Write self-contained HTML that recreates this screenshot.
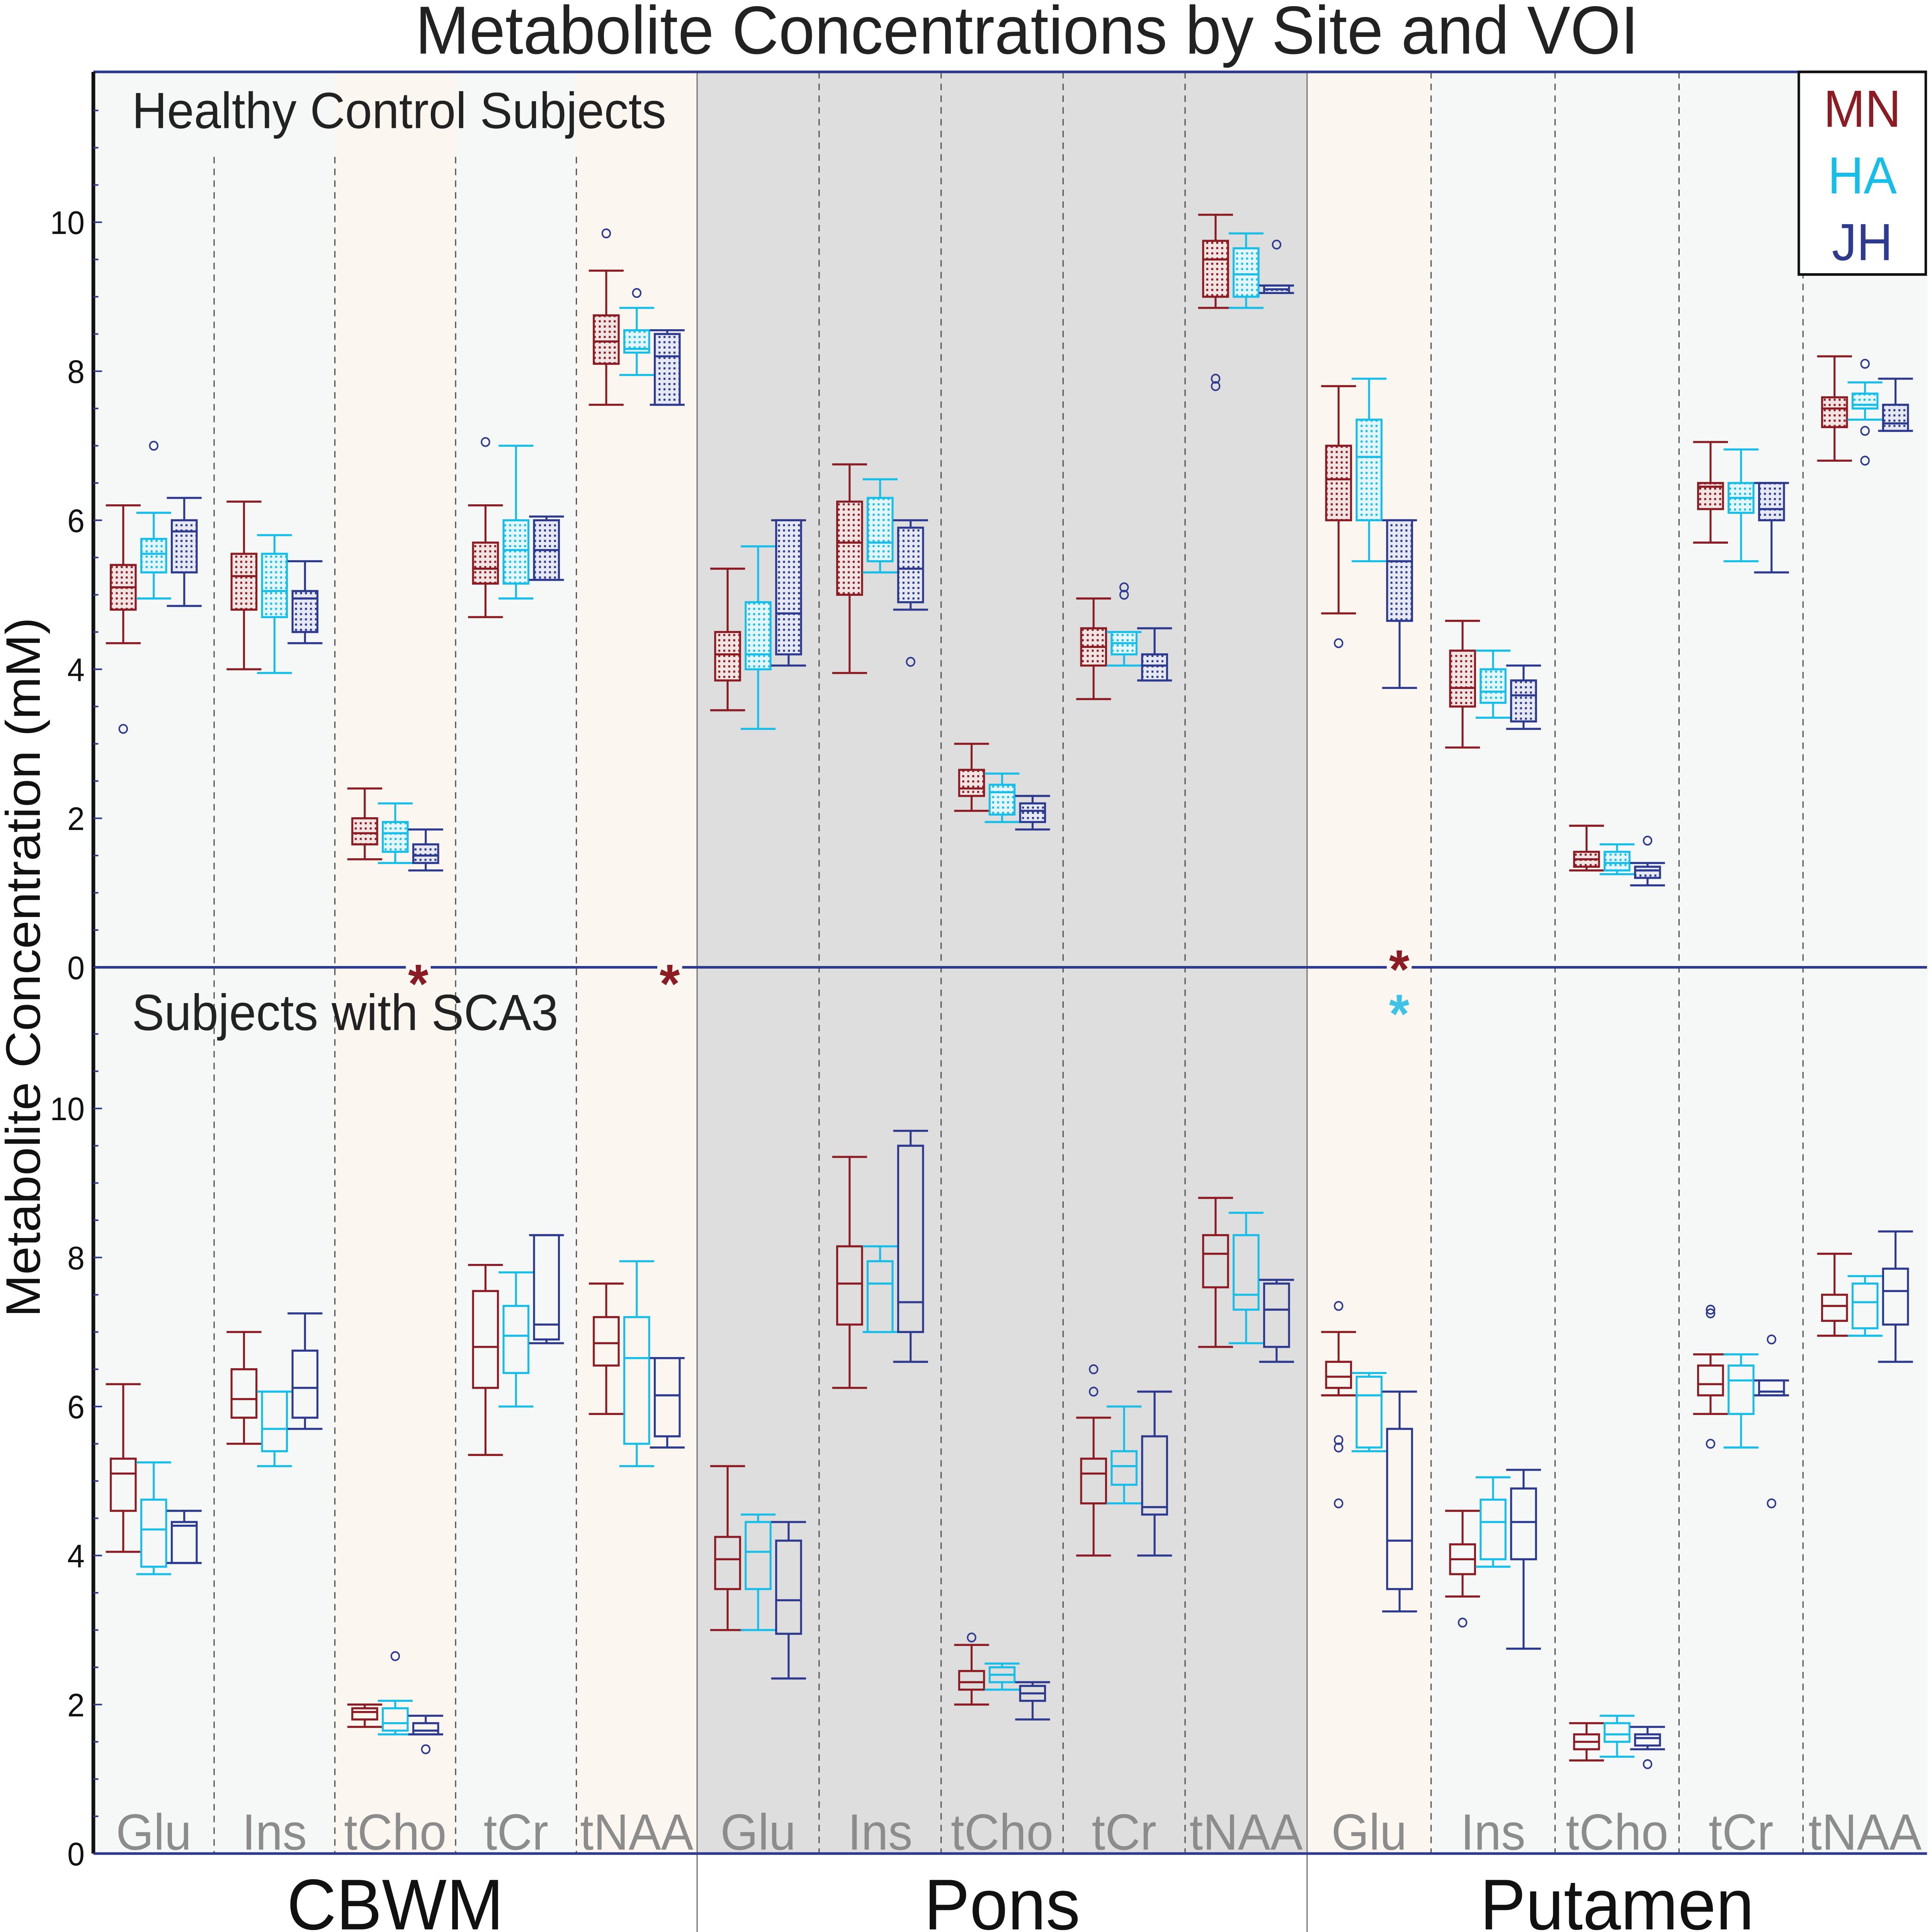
<!DOCTYPE html>
<html><head><meta charset="utf-8"><style>html,body{margin:0;padding:0;background:#fff;width:100vw;height:100vh;overflow:hidden}svg{display:block;width:100vw;height:100vh}</style></head>
<body>
<svg id="chart" viewBox="0 0 1552 1478" preserveAspectRatio="none" xmlns="http://www.w3.org/2000/svg" font-family="Liberation Sans, DejaVu Sans, sans-serif">
<defs>
<pattern id="dotMN" width="4" height="4" patternUnits="userSpaceOnUse"><rect width="4" height="4" fill="#f3e4e4"/><rect x="1" y="1" width="1.6" height="1.6" fill="#8b1c24"/></pattern>
<pattern id="dotHA" width="4" height="4" patternUnits="userSpaceOnUse"><rect width="4" height="4" fill="#e3f6fb"/><rect x="1" y="1" width="1.6" height="1.6" fill="#18bde8"/></pattern>
<pattern id="dotJH" width="4" height="4" patternUnits="userSpaceOnUse"><rect width="4" height="4" fill="#e6e8f3"/><rect x="1" y="1" width="1.6" height="1.6" fill="#2d3a8e"/></pattern>
</defs>
<g id="bg"></g>
<g id="marks"></g>
<g id="fg"></g>
</svg>
<script>
const sites = ["CBWM","Pons","Putamen"];
const metabolites = ["Glu","Ins","tCho","tCr","tNAA"];
const groups = ["MN","HA","JH"];
// each: [whiskerLow, q1, median, q3, whiskerHigh, [outliers]] ordered site -> metabolite -> group
const healthy = [
 [4.35,4.8,5.1,5.4,6.2,[3.2]],[4.95,5.3,5.55,5.75,6.1,[7.0]],[4.85,5.3,5.85,6.0,6.3,[]],
 [4.0,4.8,5.25,5.55,6.25,[]],[3.95,4.7,5.05,5.55,5.8,[]],[4.35,4.5,4.95,5.05,5.45,[]],
 [1.45,1.65,1.8,2.0,2.4,[]],[1.4,1.55,1.8,1.95,2.2,[]],[1.3,1.4,1.5,1.65,1.85,[]],
 [4.7,5.15,5.35,5.7,6.2,[7.05]],[4.95,5.15,5.6,6.0,7.0,[]],[5.2,5.2,5.6,6.0,6.05,[]],
 [7.55,8.1,8.4,8.75,9.35,[9.85]],[7.95,8.25,8.3,8.55,8.85,[9.05]],[7.55,7.55,8.2,8.5,8.55,[]],
 [3.45,3.85,4.2,4.5,5.35,[]],[3.2,4.0,4.2,4.9,5.65,[]],[4.05,4.2,4.75,6.0,6.0,[]],
 [3.95,5.0,5.7,6.25,6.75,[]],[5.3,5.45,5.7,6.3,6.55,[]],[4.8,4.9,5.35,5.9,6.0,[4.1]],
 [2.1,2.3,2.4,2.65,3.0,[]],[1.95,2.05,2.35,2.45,2.6,[]],[1.85,1.95,2.1,2.2,2.3,[]],
 [3.6,4.05,4.3,4.55,4.95,[]],[4.05,4.2,4.35,4.5,4.5,[5.0,5.1]],[3.85,3.85,4.05,4.2,4.55,[]],
 [8.85,9.0,9.5,9.75,10.1,[7.8,7.9]],[8.85,9.0,9.3,9.65,9.85,[]],[9.05,9.05,9.1,9.15,9.15,[9.7]],
 [4.75,6.0,6.55,7.0,7.8,[4.35]],[5.45,6.0,6.85,7.35,7.9,[]],[3.75,4.65,5.45,6.0,6.0,[]],
 [2.95,3.5,3.75,4.25,4.65,[]],[3.35,3.55,3.7,4.0,4.25,[]],[3.2,3.3,3.65,3.85,4.05,[]],
 [1.3,1.35,1.45,1.55,1.9,[]],[1.25,1.3,1.4,1.55,1.65,[]],[1.1,1.2,1.3,1.35,1.4,[1.7]],
 [5.7,6.15,6.45,6.5,7.05,[]],[5.45,6.1,6.3,6.5,6.95,[]],[5.3,6.0,6.15,6.5,6.5,[]],
 [6.8,7.25,7.5,7.65,8.2,[]],[7.35,7.5,7.55,7.7,7.85,[8.1,7.2,6.8]],[7.2,7.2,7.3,7.55,7.9,[]]
];
const sca3 = [
 [4.05,4.6,5.1,5.3,6.3,[]],[3.75,3.85,4.35,4.75,5.25,[]],[3.9,3.9,4.4,4.45,4.6,[]],
 [5.5,5.85,6.1,6.5,7.0,[]],[5.2,5.4,5.7,6.2,6.2,[]],[5.7,5.85,6.25,6.75,7.25,[]],
 [1.7,1.8,1.9,1.95,2.0,[]],[1.6,1.65,1.75,1.95,2.05,[2.65]],[1.6,1.6,1.65,1.75,1.85,[1.4]],
 [5.35,6.25,6.8,7.55,7.9,[]],[6.0,6.45,6.95,7.35,7.8,[]],[6.85,6.9,7.1,8.3,8.3,[]],
 [5.9,6.55,6.85,7.2,7.65,[]],[5.2,5.5,6.65,7.2,7.95,[]],[5.45,5.6,6.15,6.65,6.65,[]],
 [3.0,3.55,3.95,4.25,5.2,[]],[3.0,3.55,4.05,4.45,4.55,[]],[2.35,2.95,3.4,4.2,4.45,[]],
 [6.25,7.1,7.65,8.15,9.35,[]],[7.0,7.0,7.65,7.95,8.15,[]],[6.6,7.0,7.4,9.5,9.7,[]],
 [2.0,2.2,2.3,2.45,2.8,[2.9]],[2.2,2.3,2.4,2.5,2.55,[]],[1.8,2.05,2.15,2.25,2.3,[]],
 [4.0,4.7,5.1,5.3,5.85,[6.2,6.5]],[4.7,4.95,5.2,5.4,6.0,[]],[4.0,4.55,4.65,5.6,6.2,[]],
 [6.8,7.6,8.05,8.3,8.8,[]],[6.85,7.3,7.5,8.3,8.6,[]],[6.6,6.8,7.3,7.65,7.7,[]],
 [6.15,6.25,6.4,6.6,7.0,[7.35,5.55,5.45,4.7]],[5.4,5.45,6.15,6.4,6.45,[]],[3.25,3.55,4.2,5.7,6.2,[]],
 [3.45,3.75,3.95,4.15,4.6,[3.1]],[3.85,3.95,4.45,4.75,5.05,[]],[2.75,3.95,4.45,4.9,5.15,[]],
 [1.25,1.4,1.5,1.6,1.75,[]],[1.3,1.5,1.6,1.75,1.85,[]],[1.4,1.45,1.55,1.6,1.7,[1.2]],
 [5.9,6.15,6.3,6.55,6.7,[7.25,7.3,5.5]],[5.45,5.9,6.35,6.55,6.7,[]],[6.15,6.15,6.2,6.35,6.35,[6.9,4.7]],
 [6.95,7.15,7.35,7.5,8.05,[]],[6.95,7.05,7.4,7.65,7.75,[]],[6.6,7.1,7.55,7.85,8.35,[]]
];
const yTicks = [0,2,4,6,8,10];

const NS="http://www.w3.org/2000/svg";
const colors={MN:"#8b1c24",HA:"#18bde8",JH:"#2d3a8e"};
const L=75,R=1548,T=55,B=1418,MID=740,PX=57;
const siteEdges=[75,560,1050,1548];
function yTop(v){return MID-v*PX;}
function yBot(v){return B-v*PX;}
function colLeft(s,m){const w=(siteEdges[s+1]-siteEdges[s])/5;return siteEdges[s]+m*w;}
function colW(s){return (siteEdges[s+1]-siteEdges[s])/5;}
function colCenter(s,m){return colLeft(s,m)+colW(s)/2;}
function xBox(s,m,g){return colCenter(s,m)+(g-1)*24.5;}
function mk(tag,attrs,parent,txt){const e=document.createElementNS(NS,tag);for(const k in attrs)e.setAttribute(k,attrs[k]);if(txt!==undefined)e.textContent=txt;parent.appendChild(e);return e;}
const bg=document.getElementById('bg'),marks=document.getElementById('marks'),fg=document.getElementById('fg');

let t=mk('text',{x:825,y:41,'font-size':52,'text-anchor':'middle',fill:'#222'},fg,'Metabolite Concentrations by Site and VOI');


const bgColors=[["#f6f8f7","#f6f8f7","#fcf6f1","#f6f8f7","#fcf6f1"],["#dedede","#dedede","#dedede","#dedede","#dedede"],["#fcf6f1","#f6f8f7","#f6f8f7","#f6f8f7","#f6f8f7"]];
for(let s=0;s<3;s++)for(let m=0;m<5;m++){
 const r=mk('rect',{x:colLeft(s,m),y:T,width:colW(s)+0.5,height:B-T,fill:bgColors[s][m]},bg);
 
 
 if(m>0){const top=(s===0?120:T);
  const d=mk('line',{x1:colLeft(s,m),x2:colLeft(s,m),y1:top,y2:B,stroke:'#555','stroke-width':1,'stroke-dasharray':'5,4'},bg);
  }
 const lb=mk('text',{x:colCenter(s,m),y:1415,'font-size':39,'text-anchor':'middle',fill:'#8c8c8c'},fg,metabolites[m]);
 
}
for(let s=1;s<3;s++){const d=mk('line',{x1:siteEdges[s],x2:siteEdges[s],y1:T,y2:1478,stroke:'#777','stroke-width':1},bg);
 }
for(let s=0;s<3;s++){const c=(siteEdges[s]+siteEdges[s+1])/2;
 const st=mk('text',{x:c,y:1476,'font-size':55,'text-anchor':'middle',fill:'#111'},fg,sites[s]);
 }

let p1=mk('text',{x:106,y:98,'font-size':39,fill:'#222'},fg,'Healthy Control Subjects');
let p2=mk('text',{x:106,y:788,'font-size':39,fill:'#222'},fg,'Subjects with SCA3');

let ln=mk('line',{x1:L,x2:R,y1:T,y2:T,stroke:'#2d3a8e','stroke-width':2},fg);
ln=mk('line',{x1:L,x2:R,y1:MID,y2:MID,stroke:'#2d3a8e','stroke-width':2},fg);
ln=mk('line',{x1:L,x2:R,y1:B,y2:B,stroke:'#2d3a8e','stroke-width':2},fg);
ln=mk('line',{x1:L,x2:L,y1:T,y2:B,stroke:'#111','stroke-width':3},fg);

[yTop,yBot].forEach((f,pi)=>{
 for(let v=0;v<=11.5;v+=0.5){const y=f(v);if(pi===1&&v>11.3)continue;if(pi===0&&y<T)continue;
  const major=(v%2===0);
  const tk=mk('line',{x1:L,x2:L+(major?7:4),y1:y,y2:y,stroke:'#2d3a8e','stroke-width':1.2},fg);
  }
 yTicks.forEach(v=>{const tl=mk('text',{x:68,y:f(v)+9,'font-size':25,'text-anchor':'end',fill:'#111'},fg,String(v));
  });
});
let yt=mk('text',{x:0,y:0,'font-size':39,'text-anchor':'middle',fill:'#111',transform:'translate(32,740) rotate(-90)'},fg,'Metabolite Concentration (mM)');


function drawBox(d,s,m,g,f,filled,panel){
 const x=xBox(s,m,g),c=colors[groups[g]],bw=20,cw=28;
 const grp=mk('g',{},marks);
 
 
 const sw=1.6;
 mk('line',{x1:x,x2:x,y1:f(d[0]),y2:f(d[1]),stroke:c,'stroke-width':sw},grp);
 mk('line',{x1:x,x2:x,y1:f(d[3]),y2:f(d[4]),stroke:c,'stroke-width':sw},grp);
 mk('line',{x1:x-cw/2,x2:x+cw/2,y1:f(d[0]),y2:f(d[0]),stroke:c,'stroke-width':sw},grp);
 mk('line',{x1:x-cw/2,x2:x+cw/2,y1:f(d[4]),y2:f(d[4]),stroke:c,'stroke-width':sw},grp);
 const h=Math.max(f(d[1])-f(d[3]),1.5);
 mk('rect',{x:x-bw/2,y:f(d[3]),width:bw,height:h,fill:filled?'url(#dot'+groups[g]+')':'none',stroke:c,'stroke-width':sw},grp);
 mk('line',{x1:x-bw/2,x2:x+bw/2,y1:f(d[2]),y2:f(d[2]),stroke:c,'stroke-width':sw},grp);
 d[5].forEach(o=>{const ci=mk('circle',{cx:x,cy:f(o),r:3.2,fill:'none',stroke:'#2d3a8e','stroke-width':1.2},grp);
  });
}
for(let s=0;s<3;s++)for(let m=0;m<5;m++)for(let g=0;g<3;g++){
 const i=s*15+m*3+g;
 drawBox(healthy[i],s,m,g,yTop,true,'healthy');
 drawBox(sca3[i],s,m,g,yBot,false,'sca3');
}

[[336,753,'#8b1c24','tcho'],[538,753,'#8b1c24','tnaa'],[1124,742,'#8b1c24','glu-mn'],[1124,776,'#3ec3e6','glu-ha']].forEach(a=>{
 const r=mk('rect',{x:a[0]-10,y:a[1]-20,width:20,height:22,fill:bgColors[0][2]},fg);
 
 const s=mk('text',{x:a[0],y:a[1]+14,'font-size':42,'text-anchor':'middle',fill:a[2],'font-weight':'bold'},fg,'*');
 
});

const lg=mk('g',{},fg);
mk('rect',{x:1445,y:55,width:102,height:155,fill:'#fff',stroke:'#111','stroke-width':2},lg);
groups.forEach((gname,i)=>{const e=mk('text',{x:1496,y:97+i*51,'font-size':40,'text-anchor':'middle',fill:colors[gname]},lg,gname);
 });
</script>
</body></html>
